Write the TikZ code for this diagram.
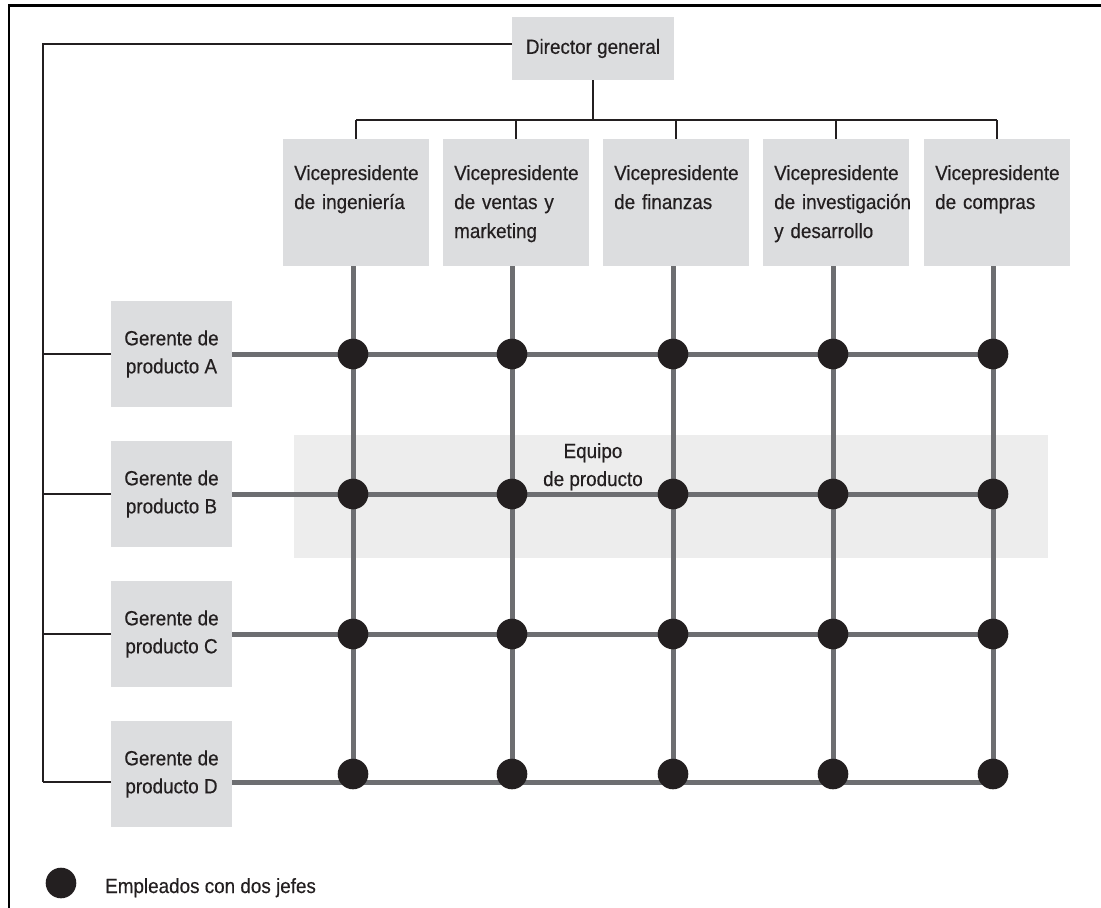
\documentclass[tikz,border=0pt]{standalone}
\usepackage{fontspec}
\setmainfont{Liberation Sans}[FakeStretch=0.92, FakeBold=0.4]
\definecolor{boxgray}{RGB}{220,221,223}
\definecolor{linegray}{RGB}{109,110,113}
\definecolor{inkblack}{RGB}{35,31,32}
\definecolor{teamgray}{RGB}{237,237,237}
\tikzset{
  boxbase/.style={fill=boxgray, draw=none, inner sep=0pt},
  vpbox/.style={boxbase, minimum width=146, minimum height=127},
  gbox/.style={boxbase, minimum width=121, minimum height=106, align=center, text=inkblack,
    font=\fontsize{20.5}{28}\selectfont},
  vptext/.style={anchor=base west, inner sep=0pt, text width=140, align=left, text=inkblack,
    font=\fontsize{20.5}{29}\selectfont},
  thinline/.style={draw=inkblack, line width=1.3pt},
  thickline/.style={draw=linegray, line width=5pt},
  dot/.style={circle, fill=inkblack, minimum size=30.6, inner sep=0pt},
  plaintext/.style={inner sep=0pt, text=inkblack, font=\fontsize{20.5}{28}\selectfont},
}
\begin{document}
\begin{tikzpicture}[x=1pt,y=-1pt]
\useasboundingbox (0,0) rectangle (1101,908);
% outer frame
\draw[line width=2.5pt, black] (1101,5.5) -- (9,5.5) -- (9,908);

% product team band
\node[fill=teamgray, draw=none, minimum width=754, minimum height=123, inner sep=0pt] (eq) at (671,496.5) {};
\node[plaintext, anchor=base, align=center] (eqt) at (593,486) {Equipo\\de producto};

% director
\node[boxbase, minimum width=162, minimum height=63, text=inkblack, font=\fontsize{20.5}{28}\selectfont] (dir) at (593,48.5) {Director general};

% VP boxes
\node[vpbox] (v1) at (356,202.5) {};
\node[vpbox] (v2) at (516,202.5) {};
\node[vpbox] (v3) at (676,202.5) {};
\node[vpbox] (v4) at (836,202.5) {};
\node[vpbox] (v5) at (997,202.5) {};
\node[vptext] (v1t) at (294,180) {Vicepresidente\\de ingeniería};
\node[vptext] (v2t) at (454,180) {Vicepresidente\\de ventas y\\marketing};
\node[vptext] (v3t) at (614,180) {Vicepresidente\\de finanzas};
\node[vptext] (v4t) at (774,180) {Vicepresidente\\de investigación\\y desarrollo};
\node[vptext] (v5t) at (935,180) {Vicepresidente\\de compras};

% bus from director
\coordinate (bus) at (593,120);
\draw[thinline] (dir.south) -- (dir.south |- bus);
\draw[thinline] (v1.north |- bus) -- (v5.north |- bus);
\foreach \v in {v1,v2,v3,v4,v5}{\draw[thinline] (\v.north |- bus) -- (\v.north);}

% left spine
\coordinate (tl) at (43,44);
\coordinate (bl) at (43,782);
\draw[thinline] (dir.west |- tl) -- (tl) -- (bl);

% product managers
\node[gbox] (gA) at (171.5,354) {Gerente de\\producto A};
\node[gbox] (gB) at (171.5,494) {Gerente de\\producto B};
\node[gbox] (gC) at (171.5,634) {Gerente de\\producto C};
\node[gbox] (gD) at (171.5,774) {Gerente de\\producto D};
\draw[thinline] (gA.west -| tl) -- (gA.west);
\draw[thinline] (gB.west -| tl) -- (gB.west);
\draw[thinline] (gC.west -| tl) -- (gC.west);
\coordinate (gDl) at (111,782);
\draw[thinline] (bl) -- (gDl);

% grid dots
\foreach \c/\x in {1/353,2/512,3/673,4/833,5/993}{
  \coordinate (dA\c) at (\x,354);
  \coordinate (dB\c) at (\x,494);
  \coordinate (dC\c) at (\x,634);
  \coordinate (dD\c) at (\x,774);
}
% vertical thick lines
\foreach \c/\v in {1/v1,2/v2,3/v3,4/v4,5/v5}{
  \draw[thickline] (\v.south -| dA\c) -- (dD\c);
}
% horizontal thick lines
\draw[thickline] (gA.east) -- (dA5);
\draw[thickline] (gB.east) -- (dB5);
\draw[thickline] (gC.east) -- (dC5);
\coordinate (gDr) at (232,782);
\coordinate (dDe) at (993,782);
\draw[thickline] (gDr) -- (dDe);

\foreach \r in {A,B,C,D}{
  \foreach \c in {1,...,5}{
    \node[dot] (n\r\c) at (d\r\c) {};
  }
}

% legend
\node[dot] (legdot) at (61,883) {};
\node[plaintext, anchor=base west] (legtext) at (105,893) {Empleados con dos jefes};
\end{tikzpicture}
\end{document}
